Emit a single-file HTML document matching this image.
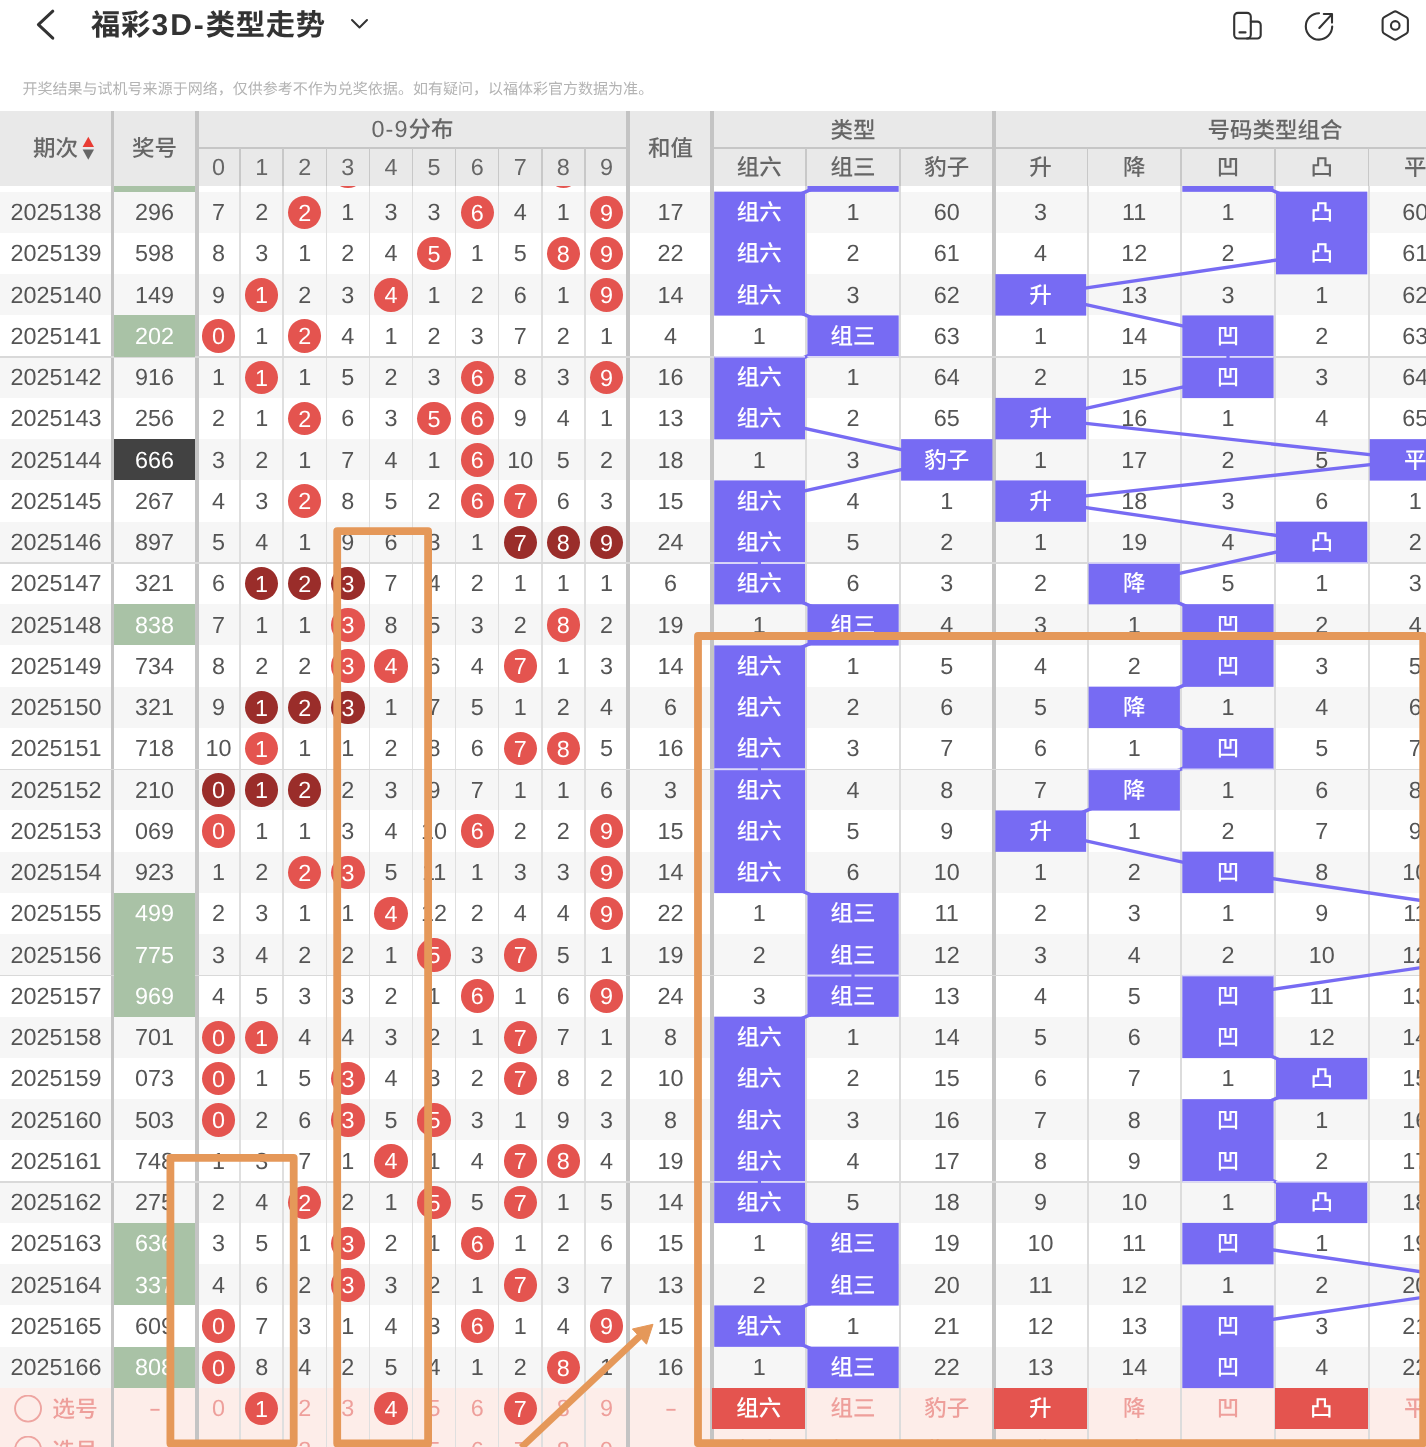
<!DOCTYPE html>
<html lang="zh"><head><meta charset="utf-8"><title>福彩3D-类型走势</title>
<style>
*{margin:0;padding:0;box-sizing:border-box}
html,body{width:1426px;height:1447px;overflow:hidden;background:#fff}
body{position:relative;text-rendering:geometricPrecision;font-family:"Liberation Sans","Noto Sans CJK SC",sans-serif;color:#555}
.abs{position:absolute}
.r{position:absolute;left:0;width:1426px;height:41.25px}
.r.g{background:#f6f6f6}
.r.p{background:#fdede9}
.r.q{color:#ee9f9b}
.r i,.h i{position:absolute;top:0;height:41.25px;line-height:41.6px;text-align:center;padding-top:0.5px;font-style:normal;font-size:23.4px;white-space:nowrap}
.r i.z{font-size:22.5px;line-height:42px;font-weight:500}
.r i.b{width:33.4px;height:33.4px;top:4.2px;line-height:33.8px;padding-top:1px;border-radius:50%;background:#e4544f;color:#fff}
.r i.b.k{background:#9a2d2a}
.r i.gr{background:#a9c2a6;color:#fff}
.r i.bk{background:#424242;color:#fff}
.r i.pu{color:#fff;font-weight:500}
.r i.rd{background:#e4544f;color:#fff;font-weight:500}
.vl{position:absolute;top:111.4px;height:1340px;background:#c4c4c4}
.vt{width:3.8px}
.vn{width:2px;background:#dcdcdc;top:148px}
.hl{position:absolute;left:0;width:1426px;height:1.6px;background:#d9d9d9}
.h{position:absolute;left:0;top:111.4px;width:1426px;height:74.6px;background:#e9e9e9;color:#666}
.h i{font-size:22.5px;font-weight:500}
.h i.n,.h i s{font-size:23.4px;text-decoration:none}
.r i b{display:inline-block;font-weight:400;transform:scaleX(1.6)}
</style></head><body>

<svg class="abs" style="left:0;top:0" width="1426" height="60" viewBox="0 0 1426 60" fill="none" stroke="#333" stroke-width="2.6" stroke-linecap="round" stroke-linejoin="round">
<path d="M52.8 11.2 L38.4 24.7 L52.8 38.2" stroke-width="3"/>
<path d="M352 20 L359.5 27.5 L367 20" stroke-width="2"/>
<g stroke-width="2.1">
<rect x="1234.2" y="12.9" width="16.6" height="25.6" rx="3.8"/><path d="M1250.8 21.6 H1257.3 a3.4 3.4 0 0 1 3.4 3.4 V35.1 a3.4 3.4 0 0 1 -3.4 3.4 H1247"/><path d="M1239.5 32.4 H1245.5"/>
<path d="M1319 13.2 A13.2 13.2 0 1 0 1332.2 26.6"/><path d="M1319.3 28 L1331.8 14.4 M1323.8 14 H1332 V22.6"/>
<path d="M1393.60 11.80 Q1395.25 10.85 1396.90 11.80 L1406.25 17.20 Q1407.89 18.15 1407.89 20.05 L1407.89 30.85 Q1407.89 32.75 1406.25 33.70 L1396.90 39.10 Q1395.25 40.05 1393.60 39.10 L1384.25 33.70 Q1382.61 32.75 1382.61 30.85 L1382.61 20.05 Q1382.61 18.15 1384.25 17.20 Z"/><circle cx="1395.25" cy="25.45" r="4.3"/>
</g></svg>
<div class="abs" style="left:91px;top:2.8px;height:46px;line-height:46px;font-size:29.3px;font-weight:700;color:#333;white-space:nowrap;letter-spacing:0.7px">福彩<span style="font-size:30px;letter-spacing:1.9px;margin-left:0.6px">3D-</span>类型走势</div>
<div class="abs" style="left:22.5px;top:78.7px;height:22px;line-height:22px;font-size:15.02px;color:#b3b3b3;white-space:nowrap">开奖结果与试机号来源于网络，仅供参考不作为兑奖依据。如有疑问，以福体彩官方数据为准。</div>
<div class="r" style="top:150.30px"></div><div class="r g" style="top:191.55px"></div><div class="r" style="top:232.80px"></div><div class="r g" style="top:274.05px"></div><div class="r" style="top:315.30px"></div><div class="r g" style="top:356.55px"></div><div class="r" style="top:397.80px"></div><div class="r g" style="top:439.05px"></div><div class="r" style="top:480.30px"></div><div class="r g" style="top:521.55px"></div><div class="r" style="top:562.80px"></div><div class="r g" style="top:604.05px"></div><div class="r" style="top:645.30px"></div><div class="r g" style="top:686.55px"></div><div class="r" style="top:727.80px"></div><div class="r g" style="top:769.05px"></div><div class="r" style="top:810.30px"></div><div class="r g" style="top:851.55px"></div><div class="r" style="top:892.80px"></div><div class="r g" style="top:934.05px"></div><div class="r" style="top:975.30px"></div><div class="r g" style="top:1016.55px"></div><div class="r" style="top:1057.80px"></div><div class="r g" style="top:1099.05px"></div><div class="r" style="top:1140.30px"></div><div class="r g" style="top:1181.55px"></div><div class="r" style="top:1222.80px"></div><div class="r g" style="top:1264.05px"></div><div class="r" style="top:1305.30px"></div><div class="r g" style="top:1346.55px"></div><div class="r p" style="top:1387.80px"></div><div class="r p" style="top:1429.05px"></div>
<div class="vl vt" style="left:110.5px"></div>
<div class="vl vt" style="left:194.8px"></div>
<div class="vl vt" style="left:626.3px"></div>
<div class="vl vt" style="left:710.3px"></div>
<div class="vl vt" style="left:991.8px"></div>
<div class="vl vn" style="left:239.35px;width:1.5px;background:#dfdfdf"></div>
<div class="vl vn" style="left:282.45px;width:1.5px;background:#dfdfdf"></div>
<div class="vl vn" style="left:325.55px;width:1.5px;background:#dfdfdf"></div>
<div class="vl vn" style="left:368.65px;width:1.5px;background:#dfdfdf"></div>
<div class="vl vn" style="left:411.75px;width:1.5px;background:#dfdfdf"></div>
<div class="vl vn" style="left:454.85px;width:1.5px;background:#dfdfdf"></div>
<div class="vl vn" style="left:497.95px;width:1.5px;background:#dfdfdf"></div>
<div class="vl vn" style="left:541.05px;width:1.5px;background:#dfdfdf"></div>
<div class="vl vn" style="left:584.15px;width:1.5px;background:#dfdfdf"></div>
<div class="vl vn" style="left:805.30px"></div>
<div class="vl vn" style="left:899.00px"></div>
<div class="vl vn" style="left:1086.50px"></div>
<div class="vl vn" style="left:1180.20px"></div>
<div class="vl vn" style="left:1273.90px"></div>
<div class="vl vn" style="left:1367.60px"></div>
<div class="hl" style="top:356.00px"></div>
<div class="hl" style="top:562.25px"></div>
<div class="hl" style="top:768.50px"></div>
<div class="hl" style="top:974.75px"></div>
<div class="hl" style="top:1181.00px"></div>
<svg class="abs" style="left:0;top:0" width="1426" height="1447" viewBox="0 0 1426 1447">
<polyline points="853.0,170.93 759.4,212.18 759.4,253.43 759.4,294.68 853.0,335.93 759.4,377.18 759.4,418.43 946.8,459.68 759.4,500.93 759.4,542.17 759.4,583.42 853.0,624.67 759.4,665.92 759.4,707.17 759.4,748.42 759.4,789.67 759.4,830.92 759.4,872.17 853.0,913.42 853.0,954.67 853.0,995.92 759.4,1037.17 759.4,1078.42 759.4,1119.67 759.4,1160.92 759.4,1202.17 853.0,1243.42 853.0,1284.67 759.4,1325.92 853.0,1367.17" fill="none" stroke="#776bf3" stroke-width="3.4" stroke-linejoin="round"/>
<polyline points="1228.0,170.93 1321.7,212.18 1321.7,253.43 1040.5,294.68 1228.0,335.93 1228.0,377.18 1040.5,418.43 1415.4,459.68 1040.5,500.93 1321.7,542.17 1134.2,583.42 1228.0,624.67 1228.0,665.92 1134.2,707.17 1228.0,748.42 1134.2,789.67 1040.5,830.92 1228.0,872.17 1509.1,913.42 1509.1,954.67 1228.0,995.92 1228.0,1037.17 1321.7,1078.42 1228.0,1119.67 1228.0,1160.92 1321.7,1202.17 1228.0,1243.42 1509.1,1284.67 1228.0,1325.92 1228.0,1367.17" fill="none" stroke="#776bf3" stroke-width="3.4" stroke-linejoin="round"/>
<g fill="#776bf3"><rect x="714.2" y="191.65" width="90.8" height="123.95"/><rect x="714.2" y="356.65" width="90.8" height="82.70"/><rect x="714.2" y="480.40" width="90.8" height="123.95"/><rect x="714.2" y="645.40" width="90.8" height="247.70"/><rect x="714.2" y="1016.65" width="90.8" height="206.45"/><rect x="714.2" y="1305.40" width="90.8" height="41.45"/><rect x="807.4" y="150.40" width="91.3" height="41.45"/><rect x="807.4" y="315.40" width="91.3" height="41.45"/><rect x="807.4" y="604.15" width="91.3" height="41.45"/><rect x="807.4" y="892.90" width="91.3" height="123.95"/><rect x="807.4" y="1222.90" width="91.3" height="82.70"/><rect x="807.4" y="1346.65" width="91.3" height="41.45"/><rect x="901.1" y="439.15" width="91.3" height="41.45"/><rect x="995.4" y="274.15" width="90.8" height="41.45"/><rect x="995.4" y="397.90" width="90.8" height="41.45"/><rect x="995.4" y="480.40" width="90.8" height="41.45"/><rect x="995.4" y="810.40" width="90.8" height="41.45"/><rect x="1088.6" y="562.90" width="91.3" height="41.45"/><rect x="1088.6" y="686.65" width="91.3" height="41.45"/><rect x="1088.6" y="769.15" width="91.3" height="41.45"/><rect x="1182.3" y="150.40" width="91.3" height="41.45"/><rect x="1182.3" y="315.40" width="91.3" height="82.70"/><rect x="1182.3" y="604.15" width="91.3" height="82.70"/><rect x="1182.3" y="727.90" width="91.3" height="41.45"/><rect x="1182.3" y="851.65" width="91.3" height="41.45"/><rect x="1182.3" y="975.40" width="91.3" height="82.70"/><rect x="1182.3" y="1099.15" width="91.3" height="82.70"/><rect x="1182.3" y="1222.90" width="91.3" height="41.45"/><rect x="1182.3" y="1305.40" width="91.3" height="82.70"/><rect x="1276.0" y="191.65" width="91.3" height="82.70"/><rect x="1276.0" y="521.65" width="91.3" height="41.45"/><rect x="1276.0" y="1057.90" width="91.3" height="41.45"/><rect x="1276.0" y="1181.65" width="91.3" height="41.45"/><rect x="1369.7" y="439.15" width="91.3" height="41.45"/></g>
<rect x="807.4" y="356.00" width="91.3" height="1.6" fill="#dcd9f8"/><rect x="714.3" y="356.00" width="90.7" height="1.6" fill="#dcd9f8"/><rect x="714.3" y="562.25" width="90.7" height="1.6" fill="#dcd9f8"/><rect x="714.3" y="562.25" width="90.7" height="1.6" fill="#dcd9f8"/><rect x="757.8" y="561.55" width="3.2" height="3" fill="#776bf3"/><rect x="714.3" y="768.50" width="90.7" height="1.6" fill="#dcd9f8"/><rect x="714.3" y="768.50" width="90.7" height="1.6" fill="#dcd9f8"/><rect x="757.8" y="767.80" width="3.2" height="3" fill="#776bf3"/><rect x="807.4" y="974.75" width="91.3" height="1.6" fill="#dcd9f8"/><rect x="807.4" y="974.75" width="91.3" height="1.6" fill="#dcd9f8"/><rect x="851.4" y="974.05" width="3.2" height="3" fill="#776bf3"/><rect x="714.3" y="1181.00" width="90.7" height="1.6" fill="#dcd9f8"/><rect x="714.3" y="1181.00" width="90.7" height="1.6" fill="#dcd9f8"/><rect x="757.8" y="1180.30" width="3.2" height="3" fill="#776bf3"/><rect x="1182.3" y="356.00" width="91.3" height="1.6" fill="#dcd9f8"/><rect x="1182.3" y="356.00" width="91.3" height="1.6" fill="#dcd9f8"/><rect x="1226.4" y="355.30" width="3.2" height="3" fill="#776bf3"/><rect x="1276.0" y="562.25" width="91.3" height="1.6" fill="#dcd9f8"/><rect x="1088.6" y="562.25" width="91.3" height="1.6" fill="#dcd9f8"/><rect x="1182.3" y="768.50" width="91.3" height="1.6" fill="#dcd9f8"/><rect x="1088.6" y="768.50" width="91.3" height="1.6" fill="#dcd9f8"/><rect x="1182.3" y="974.75" width="91.3" height="1.6" fill="#dcd9f8"/><rect x="1182.3" y="1181.00" width="91.3" height="1.6" fill="#dcd9f8"/><rect x="1276.0" y="1181.00" width="91.3" height="1.6" fill="#dcd9f8"/>
</svg>
<div class="r" style="top:150.30px"><i class="gr" style="left:114px;width:81px"></i><i class="b" style="left:331.2px"></i><i class="b" style="left:546.6px"></i></div>
<div class="r" style="top:191.55px"><i style="left:0.6px;width:111px">2025138</i><i style="left:114px;width:81px">296</i><i style="left:197.0px;width:43.1px">7</i><i style="left:240.1px;width:43.1px">2</i><i class="b" style="left:288.1px">2</i><i style="left:326.3px;width:43.1px">1</i><i style="left:369.4px;width:43.1px">3</i><i style="left:412.5px;width:43.1px">3</i><i class="b" style="left:460.5px">6</i><i style="left:498.7px;width:43.1px">4</i><i style="left:541.8px;width:43.1px">1</i><i class="b" style="left:589.8px">9</i><i style="left:630.5px;width:80.0px">17</i><i class="z pu" style="left:712.5px;width:93.7px">组六</i><i style="left:806.2px;width:93.7px">1</i><i style="left:899.9px;width:93.7px">60</i><i style="left:993.7px;width:93.7px">3</i><i style="left:1087.4px;width:93.7px">11</i><i style="left:1181.1px;width:93.7px">1</i><i class="z pu" style="left:1274.8px;width:93.7px">凸</i><i style="left:1368.5px;width:93.7px">60</i></div>
<div class="r" style="top:232.80px"><i style="left:0.6px;width:111px">2025139</i><i style="left:114px;width:81px">598</i><i style="left:197.0px;width:43.1px">8</i><i style="left:240.1px;width:43.1px">3</i><i style="left:283.2px;width:43.1px">1</i><i style="left:326.3px;width:43.1px">2</i><i style="left:369.4px;width:43.1px">4</i><i class="b" style="left:417.4px">5</i><i style="left:455.6px;width:43.1px">1</i><i style="left:498.7px;width:43.1px">5</i><i class="b" style="left:546.6px">8</i><i class="b" style="left:589.8px">9</i><i style="left:630.5px;width:80.0px">22</i><i class="z pu" style="left:712.5px;width:93.7px">组六</i><i style="left:806.2px;width:93.7px">2</i><i style="left:899.9px;width:93.7px">61</i><i style="left:993.7px;width:93.7px">4</i><i style="left:1087.4px;width:93.7px">12</i><i style="left:1181.1px;width:93.7px">2</i><i class="z pu" style="left:1274.8px;width:93.7px">凸</i><i style="left:1368.5px;width:93.7px">61</i></div>
<div class="r" style="top:274.05px"><i style="left:0.6px;width:111px">2025140</i><i style="left:114px;width:81px">149</i><i style="left:197.0px;width:43.1px">9</i><i class="b" style="left:244.9px">1</i><i style="left:283.2px;width:43.1px">2</i><i style="left:326.3px;width:43.1px">3</i><i class="b" style="left:374.3px">4</i><i style="left:412.5px;width:43.1px">1</i><i style="left:455.6px;width:43.1px">2</i><i style="left:498.7px;width:43.1px">6</i><i style="left:541.8px;width:43.1px">1</i><i class="b" style="left:589.8px">9</i><i style="left:630.5px;width:80.0px">14</i><i class="z pu" style="left:712.5px;width:93.7px">组六</i><i style="left:806.2px;width:93.7px">3</i><i style="left:899.9px;width:93.7px">62</i><i class="z pu" style="left:993.7px;width:93.7px">升</i><i style="left:1087.4px;width:93.7px">13</i><i style="left:1181.1px;width:93.7px">3</i><i style="left:1274.8px;width:93.7px">1</i><i style="left:1368.5px;width:93.7px">62</i></div>
<div class="r" style="top:315.30px"><i style="left:0.6px;width:111px">2025141</i><i class="gr" style="left:114px;width:81px">202</i><i class="b" style="left:201.9px">0</i><i style="left:240.1px;width:43.1px">1</i><i class="b" style="left:288.1px">2</i><i style="left:326.3px;width:43.1px">4</i><i style="left:369.4px;width:43.1px">1</i><i style="left:412.5px;width:43.1px">2</i><i style="left:455.6px;width:43.1px">3</i><i style="left:498.7px;width:43.1px">7</i><i style="left:541.8px;width:43.1px">2</i><i style="left:584.9px;width:43.1px">1</i><i style="left:630.5px;width:80.0px">4</i><i style="left:712.5px;width:93.7px">1</i><i class="z pu" style="left:806.2px;width:93.7px">组三</i><i style="left:899.9px;width:93.7px">63</i><i style="left:993.7px;width:93.7px">1</i><i style="left:1087.4px;width:93.7px">14</i><i class="z pu" style="left:1181.1px;width:93.7px">凹</i><i style="left:1274.8px;width:93.7px">2</i><i style="left:1368.5px;width:93.7px">63</i></div>
<div class="r" style="top:356.55px"><i style="left:0.6px;width:111px">2025142</i><i style="left:114px;width:81px">916</i><i style="left:197.0px;width:43.1px">1</i><i class="b" style="left:244.9px">1</i><i style="left:283.2px;width:43.1px">1</i><i style="left:326.3px;width:43.1px">5</i><i style="left:369.4px;width:43.1px">2</i><i style="left:412.5px;width:43.1px">3</i><i class="b" style="left:460.5px">6</i><i style="left:498.7px;width:43.1px">8</i><i style="left:541.8px;width:43.1px">3</i><i class="b" style="left:589.8px">9</i><i style="left:630.5px;width:80.0px">16</i><i class="z pu" style="left:712.5px;width:93.7px">组六</i><i style="left:806.2px;width:93.7px">1</i><i style="left:899.9px;width:93.7px">64</i><i style="left:993.7px;width:93.7px">2</i><i style="left:1087.4px;width:93.7px">15</i><i class="z pu" style="left:1181.1px;width:93.7px">凹</i><i style="left:1274.8px;width:93.7px">3</i><i style="left:1368.5px;width:93.7px">64</i></div>
<div class="r" style="top:397.80px"><i style="left:0.6px;width:111px">2025143</i><i style="left:114px;width:81px">256</i><i style="left:197.0px;width:43.1px">2</i><i style="left:240.1px;width:43.1px">1</i><i class="b" style="left:288.1px">2</i><i style="left:326.3px;width:43.1px">6</i><i style="left:369.4px;width:43.1px">3</i><i class="b" style="left:417.4px">5</i><i class="b" style="left:460.5px">6</i><i style="left:498.7px;width:43.1px">9</i><i style="left:541.8px;width:43.1px">4</i><i style="left:584.9px;width:43.1px">1</i><i style="left:630.5px;width:80.0px">13</i><i class="z pu" style="left:712.5px;width:93.7px">组六</i><i style="left:806.2px;width:93.7px">2</i><i style="left:899.9px;width:93.7px">65</i><i class="z pu" style="left:993.7px;width:93.7px">升</i><i style="left:1087.4px;width:93.7px">16</i><i style="left:1181.1px;width:93.7px">1</i><i style="left:1274.8px;width:93.7px">4</i><i style="left:1368.5px;width:93.7px">65</i></div>
<div class="r" style="top:439.05px"><i style="left:0.6px;width:111px">2025144</i><i class="bk" style="left:114px;width:81px">666</i><i style="left:197.0px;width:43.1px">3</i><i style="left:240.1px;width:43.1px">2</i><i style="left:283.2px;width:43.1px">1</i><i style="left:326.3px;width:43.1px">7</i><i style="left:369.4px;width:43.1px">4</i><i style="left:412.5px;width:43.1px">1</i><i class="b" style="left:460.5px">6</i><i style="left:498.7px;width:43.1px">10</i><i style="left:541.8px;width:43.1px">5</i><i style="left:584.9px;width:43.1px">2</i><i style="left:630.5px;width:80.0px">18</i><i style="left:712.5px;width:93.7px">1</i><i style="left:806.2px;width:93.7px">3</i><i class="z pu" style="left:899.9px;width:93.7px">豹子</i><i style="left:993.7px;width:93.7px">1</i><i style="left:1087.4px;width:93.7px">17</i><i style="left:1181.1px;width:93.7px">2</i><i style="left:1274.8px;width:93.7px">5</i><i class="z pu" style="left:1368.5px;width:93.7px">平</i></div>
<div class="r" style="top:480.30px"><i style="left:0.6px;width:111px">2025145</i><i style="left:114px;width:81px">267</i><i style="left:197.0px;width:43.1px">4</i><i style="left:240.1px;width:43.1px">3</i><i class="b" style="left:288.1px">2</i><i style="left:326.3px;width:43.1px">8</i><i style="left:369.4px;width:43.1px">5</i><i style="left:412.5px;width:43.1px">2</i><i class="b" style="left:460.5px">6</i><i class="b" style="left:503.6px">7</i><i style="left:541.8px;width:43.1px">6</i><i style="left:584.9px;width:43.1px">3</i><i style="left:630.5px;width:80.0px">15</i><i class="z pu" style="left:712.5px;width:93.7px">组六</i><i style="left:806.2px;width:93.7px">4</i><i style="left:899.9px;width:93.7px">1</i><i class="z pu" style="left:993.7px;width:93.7px">升</i><i style="left:1087.4px;width:93.7px">18</i><i style="left:1181.1px;width:93.7px">3</i><i style="left:1274.8px;width:93.7px">6</i><i style="left:1368.5px;width:93.7px">1</i></div>
<div class="r" style="top:521.55px"><i style="left:0.6px;width:111px">2025146</i><i style="left:114px;width:81px">897</i><i style="left:197.0px;width:43.1px">5</i><i style="left:240.1px;width:43.1px">4</i><i style="left:283.2px;width:43.1px">1</i><i style="left:326.3px;width:43.1px">9</i><i style="left:369.4px;width:43.1px">6</i><i style="left:412.5px;width:43.1px">3</i><i style="left:455.6px;width:43.1px">1</i><i class="b k" style="left:503.6px">7</i><i class="b k" style="left:546.6px">8</i><i class="b k" style="left:589.8px">9</i><i style="left:630.5px;width:80.0px">24</i><i class="z pu" style="left:712.5px;width:93.7px">组六</i><i style="left:806.2px;width:93.7px">5</i><i style="left:899.9px;width:93.7px">2</i><i style="left:993.7px;width:93.7px">1</i><i style="left:1087.4px;width:93.7px">19</i><i style="left:1181.1px;width:93.7px">4</i><i class="z pu" style="left:1274.8px;width:93.7px">凸</i><i style="left:1368.5px;width:93.7px">2</i></div>
<div class="r" style="top:562.80px"><i style="left:0.6px;width:111px">2025147</i><i style="left:114px;width:81px">321</i><i style="left:197.0px;width:43.1px">6</i><i class="b k" style="left:244.9px">1</i><i class="b k" style="left:288.1px">2</i><i class="b k" style="left:331.2px">3</i><i style="left:369.4px;width:43.1px">7</i><i style="left:412.5px;width:43.1px">4</i><i style="left:455.6px;width:43.1px">2</i><i style="left:498.7px;width:43.1px">1</i><i style="left:541.8px;width:43.1px">1</i><i style="left:584.9px;width:43.1px">1</i><i style="left:630.5px;width:80.0px">6</i><i class="z pu" style="left:712.5px;width:93.7px">组六</i><i style="left:806.2px;width:93.7px">6</i><i style="left:899.9px;width:93.7px">3</i><i style="left:993.7px;width:93.7px">2</i><i class="z pu" style="left:1087.4px;width:93.7px">降</i><i style="left:1181.1px;width:93.7px">5</i><i style="left:1274.8px;width:93.7px">1</i><i style="left:1368.5px;width:93.7px">3</i></div>
<div class="r" style="top:604.05px"><i style="left:0.6px;width:111px">2025148</i><i class="gr" style="left:114px;width:81px">838</i><i style="left:197.0px;width:43.1px">7</i><i style="left:240.1px;width:43.1px">1</i><i style="left:283.2px;width:43.1px">1</i><i class="b" style="left:331.2px">3</i><i style="left:369.4px;width:43.1px">8</i><i style="left:412.5px;width:43.1px">5</i><i style="left:455.6px;width:43.1px">3</i><i style="left:498.7px;width:43.1px">2</i><i class="b" style="left:546.6px">8</i><i style="left:584.9px;width:43.1px">2</i><i style="left:630.5px;width:80.0px">19</i><i style="left:712.5px;width:93.7px">1</i><i class="z pu" style="left:806.2px;width:93.7px">组三</i><i style="left:899.9px;width:93.7px">4</i><i style="left:993.7px;width:93.7px">3</i><i style="left:1087.4px;width:93.7px">1</i><i class="z pu" style="left:1181.1px;width:93.7px">凹</i><i style="left:1274.8px;width:93.7px">2</i><i style="left:1368.5px;width:93.7px">4</i></div>
<div class="r" style="top:645.30px"><i style="left:0.6px;width:111px">2025149</i><i style="left:114px;width:81px">734</i><i style="left:197.0px;width:43.1px">8</i><i style="left:240.1px;width:43.1px">2</i><i style="left:283.2px;width:43.1px">2</i><i class="b" style="left:331.2px">3</i><i class="b" style="left:374.3px">4</i><i style="left:412.5px;width:43.1px">6</i><i style="left:455.6px;width:43.1px">4</i><i class="b" style="left:503.6px">7</i><i style="left:541.8px;width:43.1px">1</i><i style="left:584.9px;width:43.1px">3</i><i style="left:630.5px;width:80.0px">14</i><i class="z pu" style="left:712.5px;width:93.7px">组六</i><i style="left:806.2px;width:93.7px">1</i><i style="left:899.9px;width:93.7px">5</i><i style="left:993.7px;width:93.7px">4</i><i style="left:1087.4px;width:93.7px">2</i><i class="z pu" style="left:1181.1px;width:93.7px">凹</i><i style="left:1274.8px;width:93.7px">3</i><i style="left:1368.5px;width:93.7px">5</i></div>
<div class="r" style="top:686.55px"><i style="left:0.6px;width:111px">2025150</i><i style="left:114px;width:81px">321</i><i style="left:197.0px;width:43.1px">9</i><i class="b k" style="left:244.9px">1</i><i class="b k" style="left:288.1px">2</i><i class="b k" style="left:331.2px">3</i><i style="left:369.4px;width:43.1px">1</i><i style="left:412.5px;width:43.1px">7</i><i style="left:455.6px;width:43.1px">5</i><i style="left:498.7px;width:43.1px">1</i><i style="left:541.8px;width:43.1px">2</i><i style="left:584.9px;width:43.1px">4</i><i style="left:630.5px;width:80.0px">6</i><i class="z pu" style="left:712.5px;width:93.7px">组六</i><i style="left:806.2px;width:93.7px">2</i><i style="left:899.9px;width:93.7px">6</i><i style="left:993.7px;width:93.7px">5</i><i class="z pu" style="left:1087.4px;width:93.7px">降</i><i style="left:1181.1px;width:93.7px">1</i><i style="left:1274.8px;width:93.7px">4</i><i style="left:1368.5px;width:93.7px">6</i></div>
<div class="r" style="top:727.80px"><i style="left:0.6px;width:111px">2025151</i><i style="left:114px;width:81px">718</i><i style="left:197.0px;width:43.1px">10</i><i class="b" style="left:244.9px">1</i><i style="left:283.2px;width:43.1px">1</i><i style="left:326.3px;width:43.1px">1</i><i style="left:369.4px;width:43.1px">2</i><i style="left:412.5px;width:43.1px">8</i><i style="left:455.6px;width:43.1px">6</i><i class="b" style="left:503.6px">7</i><i class="b" style="left:546.6px">8</i><i style="left:584.9px;width:43.1px">5</i><i style="left:630.5px;width:80.0px">16</i><i class="z pu" style="left:712.5px;width:93.7px">组六</i><i style="left:806.2px;width:93.7px">3</i><i style="left:899.9px;width:93.7px">7</i><i style="left:993.7px;width:93.7px">6</i><i style="left:1087.4px;width:93.7px">1</i><i class="z pu" style="left:1181.1px;width:93.7px">凹</i><i style="left:1274.8px;width:93.7px">5</i><i style="left:1368.5px;width:93.7px">7</i></div>
<div class="r" style="top:769.05px"><i style="left:0.6px;width:111px">2025152</i><i style="left:114px;width:81px">210</i><i class="b k" style="left:201.9px">0</i><i class="b k" style="left:244.9px">1</i><i class="b k" style="left:288.1px">2</i><i style="left:326.3px;width:43.1px">2</i><i style="left:369.4px;width:43.1px">3</i><i style="left:412.5px;width:43.1px">9</i><i style="left:455.6px;width:43.1px">7</i><i style="left:498.7px;width:43.1px">1</i><i style="left:541.8px;width:43.1px">1</i><i style="left:584.9px;width:43.1px">6</i><i style="left:630.5px;width:80.0px">3</i><i class="z pu" style="left:712.5px;width:93.7px">组六</i><i style="left:806.2px;width:93.7px">4</i><i style="left:899.9px;width:93.7px">8</i><i style="left:993.7px;width:93.7px">7</i><i class="z pu" style="left:1087.4px;width:93.7px">降</i><i style="left:1181.1px;width:93.7px">1</i><i style="left:1274.8px;width:93.7px">6</i><i style="left:1368.5px;width:93.7px">8</i></div>
<div class="r" style="top:810.30px"><i style="left:0.6px;width:111px">2025153</i><i style="left:114px;width:81px">069</i><i class="b" style="left:201.9px">0</i><i style="left:240.1px;width:43.1px">1</i><i style="left:283.2px;width:43.1px">1</i><i style="left:326.3px;width:43.1px">3</i><i style="left:369.4px;width:43.1px">4</i><i style="left:412.5px;width:43.1px">10</i><i class="b" style="left:460.5px">6</i><i style="left:498.7px;width:43.1px">2</i><i style="left:541.8px;width:43.1px">2</i><i class="b" style="left:589.8px">9</i><i style="left:630.5px;width:80.0px">15</i><i class="z pu" style="left:712.5px;width:93.7px">组六</i><i style="left:806.2px;width:93.7px">5</i><i style="left:899.9px;width:93.7px">9</i><i class="z pu" style="left:993.7px;width:93.7px">升</i><i style="left:1087.4px;width:93.7px">1</i><i style="left:1181.1px;width:93.7px">2</i><i style="left:1274.8px;width:93.7px">7</i><i style="left:1368.5px;width:93.7px">9</i></div>
<div class="r" style="top:851.55px"><i style="left:0.6px;width:111px">2025154</i><i style="left:114px;width:81px">923</i><i style="left:197.0px;width:43.1px">1</i><i style="left:240.1px;width:43.1px">2</i><i class="b" style="left:288.1px">2</i><i class="b" style="left:331.2px">3</i><i style="left:369.4px;width:43.1px">5</i><i style="left:412.5px;width:43.1px">11</i><i style="left:455.6px;width:43.1px">1</i><i style="left:498.7px;width:43.1px">3</i><i style="left:541.8px;width:43.1px">3</i><i class="b" style="left:589.8px">9</i><i style="left:630.5px;width:80.0px">14</i><i class="z pu" style="left:712.5px;width:93.7px">组六</i><i style="left:806.2px;width:93.7px">6</i><i style="left:899.9px;width:93.7px">10</i><i style="left:993.7px;width:93.7px">1</i><i style="left:1087.4px;width:93.7px">2</i><i class="z pu" style="left:1181.1px;width:93.7px">凹</i><i style="left:1274.8px;width:93.7px">8</i><i style="left:1368.5px;width:93.7px">10</i></div>
<div class="r" style="top:892.80px"><i style="left:0.6px;width:111px">2025155</i><i class="gr" style="left:114px;width:81px">499</i><i style="left:197.0px;width:43.1px">2</i><i style="left:240.1px;width:43.1px">3</i><i style="left:283.2px;width:43.1px">1</i><i style="left:326.3px;width:43.1px">1</i><i class="b" style="left:374.3px">4</i><i style="left:412.5px;width:43.1px">12</i><i style="left:455.6px;width:43.1px">2</i><i style="left:498.7px;width:43.1px">4</i><i style="left:541.8px;width:43.1px">4</i><i class="b" style="left:589.8px">9</i><i style="left:630.5px;width:80.0px">22</i><i style="left:712.5px;width:93.7px">1</i><i class="z pu" style="left:806.2px;width:93.7px">组三</i><i style="left:899.9px;width:93.7px">11</i><i style="left:993.7px;width:93.7px">2</i><i style="left:1087.4px;width:93.7px">3</i><i style="left:1181.1px;width:93.7px">1</i><i style="left:1274.8px;width:93.7px">9</i><i style="left:1368.5px;width:93.7px">11</i></div>
<div class="r" style="top:934.05px"><i style="left:0.6px;width:111px">2025156</i><i class="gr" style="left:114px;width:81px">775</i><i style="left:197.0px;width:43.1px">3</i><i style="left:240.1px;width:43.1px">4</i><i style="left:283.2px;width:43.1px">2</i><i style="left:326.3px;width:43.1px">2</i><i style="left:369.4px;width:43.1px">1</i><i class="b" style="left:417.4px">5</i><i style="left:455.6px;width:43.1px">3</i><i class="b" style="left:503.6px">7</i><i style="left:541.8px;width:43.1px">5</i><i style="left:584.9px;width:43.1px">1</i><i style="left:630.5px;width:80.0px">19</i><i style="left:712.5px;width:93.7px">2</i><i class="z pu" style="left:806.2px;width:93.7px">组三</i><i style="left:899.9px;width:93.7px">12</i><i style="left:993.7px;width:93.7px">3</i><i style="left:1087.4px;width:93.7px">4</i><i style="left:1181.1px;width:93.7px">2</i><i style="left:1274.8px;width:93.7px">10</i><i style="left:1368.5px;width:93.7px">12</i></div>
<div class="r" style="top:975.30px"><i style="left:0.6px;width:111px">2025157</i><i class="gr" style="left:114px;width:81px">969</i><i style="left:197.0px;width:43.1px">4</i><i style="left:240.1px;width:43.1px">5</i><i style="left:283.2px;width:43.1px">3</i><i style="left:326.3px;width:43.1px">3</i><i style="left:369.4px;width:43.1px">2</i><i style="left:412.5px;width:43.1px">1</i><i class="b" style="left:460.5px">6</i><i style="left:498.7px;width:43.1px">1</i><i style="left:541.8px;width:43.1px">6</i><i class="b" style="left:589.8px">9</i><i style="left:630.5px;width:80.0px">24</i><i style="left:712.5px;width:93.7px">3</i><i class="z pu" style="left:806.2px;width:93.7px">组三</i><i style="left:899.9px;width:93.7px">13</i><i style="left:993.7px;width:93.7px">4</i><i style="left:1087.4px;width:93.7px">5</i><i class="z pu" style="left:1181.1px;width:93.7px">凹</i><i style="left:1274.8px;width:93.7px">11</i><i style="left:1368.5px;width:93.7px">13</i></div>
<div class="r" style="top:1016.55px"><i style="left:0.6px;width:111px">2025158</i><i style="left:114px;width:81px">701</i><i class="b" style="left:201.9px">0</i><i class="b" style="left:244.9px">1</i><i style="left:283.2px;width:43.1px">4</i><i style="left:326.3px;width:43.1px">4</i><i style="left:369.4px;width:43.1px">3</i><i style="left:412.5px;width:43.1px">2</i><i style="left:455.6px;width:43.1px">1</i><i class="b" style="left:503.6px">7</i><i style="left:541.8px;width:43.1px">7</i><i style="left:584.9px;width:43.1px">1</i><i style="left:630.5px;width:80.0px">8</i><i class="z pu" style="left:712.5px;width:93.7px">组六</i><i style="left:806.2px;width:93.7px">1</i><i style="left:899.9px;width:93.7px">14</i><i style="left:993.7px;width:93.7px">5</i><i style="left:1087.4px;width:93.7px">6</i><i class="z pu" style="left:1181.1px;width:93.7px">凹</i><i style="left:1274.8px;width:93.7px">12</i><i style="left:1368.5px;width:93.7px">14</i></div>
<div class="r" style="top:1057.80px"><i style="left:0.6px;width:111px">2025159</i><i style="left:114px;width:81px">073</i><i class="b" style="left:201.9px">0</i><i style="left:240.1px;width:43.1px">1</i><i style="left:283.2px;width:43.1px">5</i><i class="b" style="left:331.2px">3</i><i style="left:369.4px;width:43.1px">4</i><i style="left:412.5px;width:43.1px">3</i><i style="left:455.6px;width:43.1px">2</i><i class="b" style="left:503.6px">7</i><i style="left:541.8px;width:43.1px">8</i><i style="left:584.9px;width:43.1px">2</i><i style="left:630.5px;width:80.0px">10</i><i class="z pu" style="left:712.5px;width:93.7px">组六</i><i style="left:806.2px;width:93.7px">2</i><i style="left:899.9px;width:93.7px">15</i><i style="left:993.7px;width:93.7px">6</i><i style="left:1087.4px;width:93.7px">7</i><i style="left:1181.1px;width:93.7px">1</i><i class="z pu" style="left:1274.8px;width:93.7px">凸</i><i style="left:1368.5px;width:93.7px">15</i></div>
<div class="r" style="top:1099.05px"><i style="left:0.6px;width:111px">2025160</i><i style="left:114px;width:81px">503</i><i class="b" style="left:201.9px">0</i><i style="left:240.1px;width:43.1px">2</i><i style="left:283.2px;width:43.1px">6</i><i class="b" style="left:331.2px">3</i><i style="left:369.4px;width:43.1px">5</i><i class="b" style="left:417.4px">5</i><i style="left:455.6px;width:43.1px">3</i><i style="left:498.7px;width:43.1px">1</i><i style="left:541.8px;width:43.1px">9</i><i style="left:584.9px;width:43.1px">3</i><i style="left:630.5px;width:80.0px">8</i><i class="z pu" style="left:712.5px;width:93.7px">组六</i><i style="left:806.2px;width:93.7px">3</i><i style="left:899.9px;width:93.7px">16</i><i style="left:993.7px;width:93.7px">7</i><i style="left:1087.4px;width:93.7px">8</i><i class="z pu" style="left:1181.1px;width:93.7px">凹</i><i style="left:1274.8px;width:93.7px">1</i><i style="left:1368.5px;width:93.7px">16</i></div>
<div class="r" style="top:1140.30px"><i style="left:0.6px;width:111px">2025161</i><i style="left:114px;width:81px">748</i><i style="left:197.0px;width:43.1px">1</i><i style="left:240.1px;width:43.1px">3</i><i style="left:283.2px;width:43.1px">7</i><i style="left:326.3px;width:43.1px">1</i><i class="b" style="left:374.3px">4</i><i style="left:412.5px;width:43.1px">1</i><i style="left:455.6px;width:43.1px">4</i><i class="b" style="left:503.6px">7</i><i class="b" style="left:546.6px">8</i><i style="left:584.9px;width:43.1px">4</i><i style="left:630.5px;width:80.0px">19</i><i class="z pu" style="left:712.5px;width:93.7px">组六</i><i style="left:806.2px;width:93.7px">4</i><i style="left:899.9px;width:93.7px">17</i><i style="left:993.7px;width:93.7px">8</i><i style="left:1087.4px;width:93.7px">9</i><i class="z pu" style="left:1181.1px;width:93.7px">凹</i><i style="left:1274.8px;width:93.7px">2</i><i style="left:1368.5px;width:93.7px">17</i></div>
<div class="r" style="top:1181.55px"><i style="left:0.6px;width:111px">2025162</i><i style="left:114px;width:81px">275</i><i style="left:197.0px;width:43.1px">2</i><i style="left:240.1px;width:43.1px">4</i><i class="b" style="left:288.1px">2</i><i style="left:326.3px;width:43.1px">2</i><i style="left:369.4px;width:43.1px">1</i><i class="b" style="left:417.4px">5</i><i style="left:455.6px;width:43.1px">5</i><i class="b" style="left:503.6px">7</i><i style="left:541.8px;width:43.1px">1</i><i style="left:584.9px;width:43.1px">5</i><i style="left:630.5px;width:80.0px">14</i><i class="z pu" style="left:712.5px;width:93.7px">组六</i><i style="left:806.2px;width:93.7px">5</i><i style="left:899.9px;width:93.7px">18</i><i style="left:993.7px;width:93.7px">9</i><i style="left:1087.4px;width:93.7px">10</i><i style="left:1181.1px;width:93.7px">1</i><i class="z pu" style="left:1274.8px;width:93.7px">凸</i><i style="left:1368.5px;width:93.7px">18</i></div>
<div class="r" style="top:1222.80px"><i style="left:0.6px;width:111px">2025163</i><i class="gr" style="left:114px;width:81px">636</i><i style="left:197.0px;width:43.1px">3</i><i style="left:240.1px;width:43.1px">5</i><i style="left:283.2px;width:43.1px">1</i><i class="b" style="left:331.2px">3</i><i style="left:369.4px;width:43.1px">2</i><i style="left:412.5px;width:43.1px">1</i><i class="b" style="left:460.5px">6</i><i style="left:498.7px;width:43.1px">1</i><i style="left:541.8px;width:43.1px">2</i><i style="left:584.9px;width:43.1px">6</i><i style="left:630.5px;width:80.0px">15</i><i style="left:712.5px;width:93.7px">1</i><i class="z pu" style="left:806.2px;width:93.7px">组三</i><i style="left:899.9px;width:93.7px">19</i><i style="left:993.7px;width:93.7px">10</i><i style="left:1087.4px;width:93.7px">11</i><i class="z pu" style="left:1181.1px;width:93.7px">凹</i><i style="left:1274.8px;width:93.7px">1</i><i style="left:1368.5px;width:93.7px">19</i></div>
<div class="r" style="top:1264.05px"><i style="left:0.6px;width:111px">2025164</i><i class="gr" style="left:114px;width:81px">337</i><i style="left:197.0px;width:43.1px">4</i><i style="left:240.1px;width:43.1px">6</i><i style="left:283.2px;width:43.1px">2</i><i class="b" style="left:331.2px">3</i><i style="left:369.4px;width:43.1px">3</i><i style="left:412.5px;width:43.1px">2</i><i style="left:455.6px;width:43.1px">1</i><i class="b" style="left:503.6px">7</i><i style="left:541.8px;width:43.1px">3</i><i style="left:584.9px;width:43.1px">7</i><i style="left:630.5px;width:80.0px">13</i><i style="left:712.5px;width:93.7px">2</i><i class="z pu" style="left:806.2px;width:93.7px">组三</i><i style="left:899.9px;width:93.7px">20</i><i style="left:993.7px;width:93.7px">11</i><i style="left:1087.4px;width:93.7px">12</i><i style="left:1181.1px;width:93.7px">1</i><i style="left:1274.8px;width:93.7px">2</i><i style="left:1368.5px;width:93.7px">20</i></div>
<div class="r" style="top:1305.30px"><i style="left:0.6px;width:111px">2025165</i><i style="left:114px;width:81px">609</i><i class="b" style="left:201.9px">0</i><i style="left:240.1px;width:43.1px">7</i><i style="left:283.2px;width:43.1px">3</i><i style="left:326.3px;width:43.1px">1</i><i style="left:369.4px;width:43.1px">4</i><i style="left:412.5px;width:43.1px">3</i><i class="b" style="left:460.5px">6</i><i style="left:498.7px;width:43.1px">1</i><i style="left:541.8px;width:43.1px">4</i><i class="b" style="left:589.8px">9</i><i style="left:630.5px;width:80.0px">15</i><i class="z pu" style="left:712.5px;width:93.7px">组六</i><i style="left:806.2px;width:93.7px">1</i><i style="left:899.9px;width:93.7px">21</i><i style="left:993.7px;width:93.7px">12</i><i style="left:1087.4px;width:93.7px">13</i><i class="z pu" style="left:1181.1px;width:93.7px">凹</i><i style="left:1274.8px;width:93.7px">3</i><i style="left:1368.5px;width:93.7px">21</i></div>
<div class="r" style="top:1346.55px"><i style="left:0.6px;width:111px">2025166</i><i class="gr" style="left:114px;width:81px">808</i><i class="b" style="left:201.9px">0</i><i style="left:240.1px;width:43.1px">8</i><i style="left:283.2px;width:43.1px">4</i><i style="left:326.3px;width:43.1px">2</i><i style="left:369.4px;width:43.1px">5</i><i style="left:412.5px;width:43.1px">4</i><i style="left:455.6px;width:43.1px">1</i><i style="left:498.7px;width:43.1px">2</i><i class="b" style="left:546.6px">8</i><i style="left:584.9px;width:43.1px">1</i><i style="left:630.5px;width:80.0px">16</i><i style="left:712.5px;width:93.7px">1</i><i class="z pu" style="left:806.2px;width:93.7px">组三</i><i style="left:899.9px;width:93.7px">22</i><i style="left:993.7px;width:93.7px">13</i><i style="left:1087.4px;width:93.7px">14</i><i class="z pu" style="left:1181.1px;width:93.7px">凹</i><i style="left:1274.8px;width:93.7px">4</i><i style="left:1368.5px;width:93.7px">22</i></div>
<div class="r q" style="top:1387.80px"><svg class="abs" style="left:14px;top:7px" width="28" height="28" viewBox="0 0 28 28"><circle cx="14.05" cy="13.6" r="13" fill="none" stroke="#eea5a1" stroke-width="1.9"/></svg><i class="z" style="left:52px;width:46px;font-size:22.8px">选号</i><i style="left:114px;width:81px"><b>-</b></i><i style="left:197.0px;width:43.1px">0</i><i class="b" style="left:244.9px">1</i><i style="left:283.2px;width:43.1px">2</i><i style="left:326.3px;width:43.1px">3</i><i class="b" style="left:374.3px">4</i><i style="left:412.5px;width:43.1px">5</i><i style="left:455.6px;width:43.1px">6</i><i class="b" style="left:503.6px">7</i><i style="left:541.8px;width:43.1px">8</i><i style="left:584.9px;width:43.1px">9</i><i style="left:630.5px;width:80.0px"><b>-</b></i><i class="z rd" style="left:712.2px;width:92.9px">组六</i><i class="z" style="left:806.2px;width:93.7px">组三</i><i class="z" style="left:899.9px;width:93.7px">豹子</i><i class="z rd" style="left:993.9px;width:92.7px">升</i><i class="z" style="left:1087.4px;width:93.7px">降</i><i class="z" style="left:1181.1px;width:93.7px">凹</i><i class="z rd" style="left:1275.0px;width:92.7px">凸</i><i class="z" style="left:1368.5px;width:93.7px">平</i></div>
<div class="r q" style="top:1429.05px"><svg class="abs" style="left:14px;top:7px" width="28" height="28" viewBox="0 0 28 28"><circle cx="14.05" cy="13.6" r="13" fill="none" stroke="#eea5a1" stroke-width="1.9"/></svg><i class="z" style="left:52px;width:46px;font-size:22.8px">选号</i><i style="left:114px;width:81px"><b>-</b></i><i style="left:197.0px;width:43.1px">0</i><i style="left:240.1px;width:43.1px">1</i><i style="left:283.2px;width:43.1px">2</i><i style="left:326.3px;width:43.1px">3</i><i style="left:369.4px;width:43.1px">4</i><i style="left:412.5px;width:43.1px">5</i><i style="left:455.6px;width:43.1px">6</i><i style="left:498.7px;width:43.1px">7</i><i style="left:541.8px;width:43.1px">8</i><i style="left:584.9px;width:43.1px">9</i><i style="left:630.5px;width:80.0px"><b>-</b></i><i class="z" style="left:712.5px;width:93.7px">组六</i><i class="z" style="left:806.2px;width:93.7px">组三</i><i class="z" style="left:899.9px;width:93.7px">豹子</i><i class="z" style="left:993.7px;width:93.7px">升</i><i class="z" style="left:1087.4px;width:93.7px">降</i><i class="z" style="left:1181.1px;width:93.7px">凹</i><i class="z" style="left:1274.8px;width:93.7px">凸</i><i class="z" style="left:1368.5px;width:93.7px">平</i></div>
<div class="h">
<i style="left:15.5px;width:80.0px;top:0.6px;height:74.6px;line-height:74.6px">期次</i>
<i style="left:114.5px;width:80.0px;top:0.6px;height:74.6px;line-height:74.6px">奖号</i>
<i style="left:630.5px;width:80.0px;top:0.6px;height:74.6px;line-height:74.6px">和值</i>
<i style="left:312.5px;width:200.0px;top:-0.6px;height:36.6px;line-height:36.6px"><s style="letter-spacing:1px">0-9</s>分布</i>
<i style="left:753.0px;width:200.0px;top:1.3px;height:36.6px;line-height:36.6px">类型</i>
<i style="left:1125.0px;width:300.0px;top:1.3px;height:36.6px;line-height:36.6px">号码类型组合</i>
<i class="n" style="left:197.0px;width:43.1px;top:36.5px;height:38.0px;line-height:38.0px">0</i>
<i class="n" style="left:240.1px;width:43.1px;top:36.5px;height:38.0px;line-height:38.0px">1</i>
<i class="n" style="left:283.2px;width:43.1px;top:36.5px;height:38.0px;line-height:38.0px">2</i>
<i class="n" style="left:326.3px;width:43.1px;top:36.5px;height:38.0px;line-height:38.0px">3</i>
<i class="n" style="left:369.4px;width:43.1px;top:36.5px;height:38.0px;line-height:38.0px">4</i>
<i class="n" style="left:412.5px;width:43.1px;top:36.5px;height:38.0px;line-height:38.0px">5</i>
<i class="n" style="left:455.6px;width:43.1px;top:36.5px;height:38.0px;line-height:38.0px">6</i>
<i class="n" style="left:498.7px;width:43.1px;top:36.5px;height:38.0px;line-height:38.0px">7</i>
<i class="n" style="left:541.8px;width:43.1px;top:36.5px;height:38.0px;line-height:38.0px">8</i>
<i class="n" style="left:584.9px;width:43.1px;top:36.5px;height:38.0px;line-height:38.0px">9</i>
<i style="left:712.5px;width:93.7px;top:36.7px;height:38.0px;line-height:38.0px">组六</i>
<i style="left:806.2px;width:93.7px;top:36.7px;height:38.0px;line-height:38.0px">组三</i>
<i style="left:899.9px;width:93.7px;top:36.7px;height:38.0px;line-height:38.0px">豹子</i>
<i style="left:993.7px;width:93.7px;top:36.7px;height:38.0px;line-height:38.0px">升</i>
<i style="left:1087.4px;width:93.7px;top:36.7px;height:38.0px;line-height:38.0px">降</i>
<i style="left:1181.1px;width:93.7px;top:36.7px;height:38.0px;line-height:38.0px">凹</i>
<i style="left:1274.8px;width:93.7px;top:36.7px;height:38.0px;line-height:38.0px">凸</i>
<i style="left:1368.5px;width:93.7px;top:36.7px;height:38.0px;line-height:38.0px">平</i>
<svg class="abs" style="left:80px;top:24px" width="16" height="26" viewBox="0 0 16 26"><path d="M8.3 1.7 L14 11.9 H2.6 Z" fill="#e83c33"/><path d="M8.3 24.8 L14 14.6 H2.6 Z" fill="#666"/></svg>
</div>
<div class="abs" style="left:198.3px;top:147.3px;width:428.3px;height:1.5px;background:#c6c6c6"></div>
<div class="abs" style="left:714.2px;top:147.3px;width:711.8px;height:1.5px;background:#c6c6c6"></div>
<div class="abs" style="left:110.5px;top:111.4px;width:3.8px;height:74.6px;background:#c4c4c4"></div>
<div class="abs" style="left:194.8px;top:111.4px;width:3.8px;height:74.6px;background:#c4c4c4"></div>
<div class="abs" style="left:626.3px;top:111.4px;width:3.8px;height:74.6px;background:#c4c4c4"></div>
<div class="abs" style="left:710.3px;top:111.4px;width:3.8px;height:74.6px;background:#c4c4c4"></div>
<div class="abs" style="left:991.8px;top:111.4px;width:3.8px;height:74.6px;background:#c4c4c4"></div>
<div class="abs" style="left:239.30px;top:148px;width:1.6px;height:38px;background:#c8c8c8"></div>
<div class="abs" style="left:282.40px;top:148px;width:1.6px;height:38px;background:#c8c8c8"></div>
<div class="abs" style="left:325.50px;top:148px;width:1.6px;height:38px;background:#c8c8c8"></div>
<div class="abs" style="left:368.60px;top:148px;width:1.6px;height:38px;background:#c8c8c8"></div>
<div class="abs" style="left:411.70px;top:148px;width:1.6px;height:38px;background:#c8c8c8"></div>
<div class="abs" style="left:454.80px;top:148px;width:1.6px;height:38px;background:#c8c8c8"></div>
<div class="abs" style="left:497.90px;top:148px;width:1.6px;height:38px;background:#c8c8c8"></div>
<div class="abs" style="left:541.00px;top:148px;width:1.6px;height:38px;background:#c8c8c8"></div>
<div class="abs" style="left:584.10px;top:148px;width:1.6px;height:38px;background:#c8c8c8"></div>
<div class="abs" style="left:805.40px;top:148px;width:1.6px;height:38px;background:#c8c8c8"></div>
<div class="abs" style="left:899.10px;top:148px;width:1.6px;height:38px;background:#c8c8c8"></div>
<div class="abs" style="left:1086.60px;top:148px;width:1.6px;height:38px;background:#c8c8c8"></div>
<div class="abs" style="left:1180.30px;top:148px;width:1.6px;height:38px;background:#c8c8c8"></div>
<div class="abs" style="left:1274.00px;top:148px;width:1.6px;height:38px;background:#c8c8c8"></div>
<div class="abs" style="left:1367.70px;top:148px;width:1.6px;height:38px;background:#c8c8c8"></div>
<svg class="abs" style="left:0;top:0" width="1426" height="1447" viewBox="0 0 1426 1447"><g fill="none" stroke="#e59859" stroke-width="7.8" stroke-linejoin="round"><rect x="170.4" y="1157.8" width="123.3" height="285.7"/><rect x="337.2" y="531.1" width="90.9" height="912.4"/><rect x="698.0" y="636.0" width="725.2" height="807.2"/></g></svg>
<svg class="abs" style="left:0;top:0" width="1426" height="1447" viewBox="0 0 1426 1447"><path d="M521.3 1447.6 L640 1336" stroke="#e59859" stroke-width="6.8" fill="none"/><path d="M653 1324.3 L632.4 1329 L646.5 1344.2 Z" fill="#e59859" stroke="#e59859" stroke-width="1" stroke-linejoin="round"/></svg>
</body></html>
